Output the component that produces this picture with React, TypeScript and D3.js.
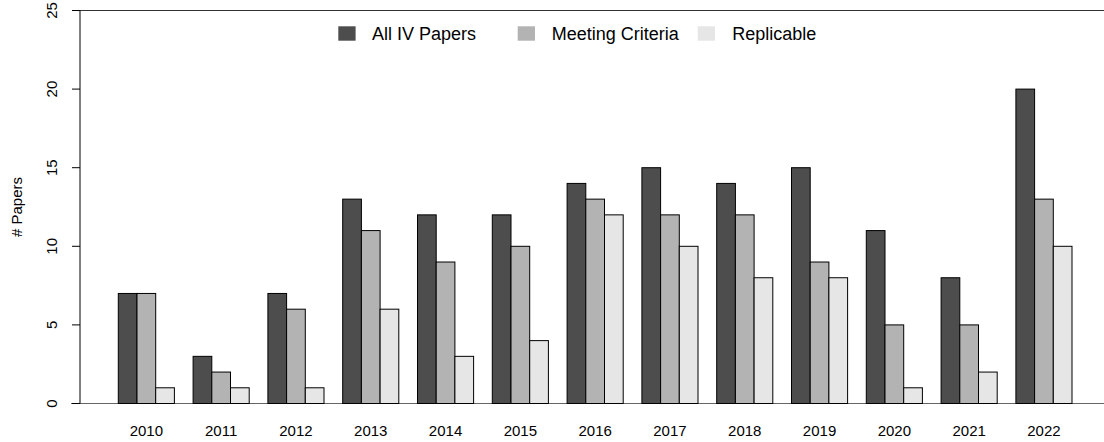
import React from "react";
import * as d3 from "d3";

const years = ["2010", "2011", "2012", "2013", "2014", "2015", "2016", "2017", "2018", "2019", "2020", "2021", "2022"];
const allPapers = [7, 3, 7, 13, 12, 12, 14, 15, 14, 15, 11, 8, 20];
const meetingCriteria = [7, 2, 6, 11, 9, 10, 13, 12, 12, 9, 5, 5, 13];
const replicable = [1, 1, 1, 6, 3, 4, 12, 10, 8, 8, 1, 2, 10];
const seriesNames = ["All IV Papers", "Meeting Criteria", "Replicable"];
const seriesColors = ["#4d4d4d", "#b3b3b3", "#e6e6e6"];
const yTicks = [0, 5, 10, 15, 20, 25];

const W = 1104;
const H = 442;
const FONT = "'Liberation Sans', Arial, Helvetica, sans-serif";

export default function App() {
  const series = [allPapers, meetingCriteria, replicable];
  // x in "bar units": group g, bar i starts at unit 1 + 4g + i
  const x = d3.scaleLinear().domain([1, 52]).range([118.3, 1072]);
  const y = d3.scaleLinear().domain([0, 25]).range([403.5, 10.5]);
  const axisX = 80;

  const bars: { key: string; x0: number; x1: number; v: number; color: string }[] = [];
  years.forEach((yr, g) => {
    series.forEach((s, i) => {
      const u = 1 + 4 * g + i;
      bars.push({ key: `${yr}-${i}`, x0: x(u), x1: x(u + 1), v: s[g], color: seriesColors[i] });
    });
  });

  const legendItems = [
    { sx: 338.3, tx: 372 },
    { sx: 517.7, tx: 551.7 },
    { sx: 697.7, tx: 732.3 },
  ];

  return (
    <svg width={W} height={H} style={{ position: "absolute", left: 0, top: 0, background: "#fff" }} fontFamily={FONT}>
      <rect x={0} y={0} width={W} height={H} fill="#fff" />
      {/* top line */}
      <line x1={axisX} x2={W} y1={y(25)} y2={y(25)} stroke="#333" strokeWidth={1} />
      {/* baseline */}
      <line x1={71} x2={W} y1={y(0)} y2={y(0)} stroke="#666" strokeWidth={1} />
      {/* bars */}
      {bars.map((b) => (
        <rect
          key={b.key}
          x={b.x0}
          y={y(b.v)}
          width={b.x1 - b.x0}
          height={y(0) - y(b.v)}
          fill={b.color}
          stroke="#000"
          strokeWidth={1}
        />
      ))}
      {/* y axis */}
      <line x1={axisX} x2={axisX} y1={y(0)} y2={y(25)} stroke="#000" strokeWidth={1} />
      {yTicks.map((t) => (
        <g key={t}>
          <line x1={72} x2={axisX} y1={y(t)} y2={y(t)} stroke="#000" strokeWidth={1} />
          <text
            transform={`translate(51.5, ${y(t)}) rotate(-90)`}
            textAnchor="middle"
            dominantBaseline="central"
            fontSize={15}
            fill="#000"
          >
            {t}
          </text>
        </g>
      ))}
      <text
        transform={`translate(16, ${(y(0) + y(25)) / 2}) rotate(-90)`}
        textAnchor="middle"
        dominantBaseline="central"
        fontSize={15}
        fill="#000"
      >
        # Papers
      </text>
      {/* x labels */}
      {years.map((yr, g) => (
        <text key={yr} x={(x(1 + 4 * g) + x(4 + 4 * g)) / 2} y={435.5} textAnchor="middle" fontSize={15} fill="#000">
          {yr}
        </text>
      ))}
      {/* legend */}
      {legendItems.map((l, i) => (
        <g key={i}>
          <rect x={l.sx} y={26.3} width={17.3} height={14.4} fill={seriesColors[i]} />
          <text x={l.tx} y={33.5} dominantBaseline="central" fontSize={18} fill="#000">
            {seriesNames[i]}
          </text>
        </g>
      ))}
    </svg>
  );
}
